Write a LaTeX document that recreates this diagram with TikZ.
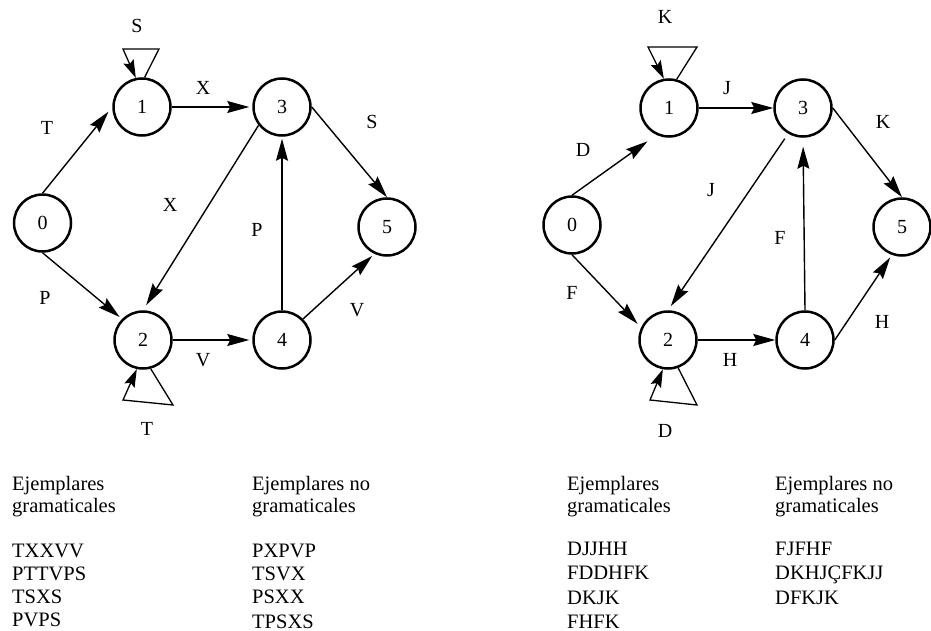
\documentclass[tikz,border=0pt]{standalone}
\usepackage{fontspec}
\setmainfont{Liberation Serif}
\usetikzlibrary{arrows.meta}
\begin{document}
\begin{tikzpicture}[x=1pt,y=-1pt,
  state/.style={circle,draw,line width=2.5pt,minimum size=57pt,inner sep=0pt,
    font=\fontsize{20}{20}\selectfont},
  edge/.style={line width=1.4pt,-{Stealth[length=22pt,width=12pt,inset=3pt]}},
  loopedge/.style={line width=1.3pt,line join=miter,-{Stealth[length=18pt,width=11pt,inset=3pt]}},
  lbl/.style={inner sep=0pt,font=\fontsize{20}{20}\selectfont},
  txt/.style={inner sep=0pt,anchor=base west,font=\fontsize{20.5}{20.5}\selectfont}]
\useasboundingbox (0,0) rectangle (931,631);
\clip (0,0) rectangle (931,631);

% ---------- first grammar ----------
\node[state] (a0) at (42.5,223) {0};
\node[state] (a1) at (142,107) {1};
\node[state] (a3) at (282,107) {3};
\node[state] (a2) at (143,340) {2};
\node[state] (a4) at (282,340) {4};
\node[state] (a5) at (387,227) {5};

\draw[edge,shorten >=6pt] (a0.north) -- (a1.west);
\draw[edge,shorten >=3pt] (a0.south) -- (a2.north west);
\draw[edge,shorten >=3pt] (a1.east) -- (a3.west);
\draw[edge] (a3.east) -- (a5.north);
\draw[edge,shorten >=6pt] (a3.218) -- (a2.north);
\draw[edge,shorten >=2pt] (a4.north) -- (a3.south);
\draw[edge,shorten >=3pt] (a4.north east) -- (a5.245);
\draw[edge,shorten >=3pt] (a2.east) -- (a4.west);
\draw[loopedge] (a1.85) -- (159,49) -- (123,49) -- (a1.102);
\draw[loopedge] (a2.-75) -- (173,405) -- (123,400) -- (a2.-102);

\node[lbl] (ls1) at (137,26) {S};
\node[lbl] (lt1) at (47,128) {T};
\node[lbl] (lx1) at (203,88) {X};
\node[lbl] (ls2) at (372,122) {S};
\node[lbl] (lx2) at (170,205) {X};
\node[lbl] (lp1) at (257,230) {P};
\node[lbl] (lp2) at (45,298) {P};
\node[lbl] (lv1) at (357,310) {V};
\node[lbl] (lv2) at (203,360) {V};
\node[lbl] (lt2) at (147,429) {T};

% ---------- second grammar ----------
\node[state] (b0) at (572,225) {0};
\node[state] (b1) at (669,108) {1};
\node[state] (b3) at (803,108) {3};
\node[state] (b2) at (668,340) {2};
\node[state] (b4) at (805,340) {4};
\node[state] (b5) at (902,227) {5};

\draw[edge,shorten >=11pt] (b0.north) -- (b1.245);
\draw[edge,shorten >=5pt] (b0.south) -- (b2.155);
\draw[edge] (b1.east) -- (b3.west);
\draw[edge] (b3.east) -- (b5.north);
\draw[edge,shorten <=6pt,shorten >=5pt] (b3.240) -- (b2.north);
\draw[edge,shorten >=9pt] (b4.north) -- (b3.south);
\draw[edge,shorten >=3pt] (b4.east) -- (b5.250);
\draw[edge] (b2.east) -- (b4.west);
\draw[loopedge] (b1.75) -- (697,47) -- (648,47) -- (b1.100);
\draw[loopedge] (b2.-70) -- (697,405) -- (650,400) -- (b2.-100);

\node[lbl] (mk1) at (665,17) {K};
\node[lbl] (md1) at (583,150) {D};
\node[lbl] (mj1) at (727,88) {J};
\node[lbl] (mk2) at (883,122) {K};
\node[lbl] (mj2) at (711,190) {J};
\node[lbl] (mf1) at (780,238) {F};
\node[lbl] (mf2) at (572,293) {F};
\node[lbl] (mh1) at (882,322) {H};
\node[lbl] (mh2) at (730,360) {H};
\node[lbl] (md2) at (665,431) {D};

% ---------- example strings ----------
\node[txt] (c1a) at (12,490) {Ejemplares};
\node[txt] (c1b) at (12,512) {gramaticales};
\node[txt] (c1c) at (12,557) {TXXVV};
\node[txt] (c1d) at (12,580) {PTTVPS};
\node[txt] (c1e) at (12,603) {TSXS};
\node[txt] (c1f) at (12,626) {PVPS};

\node[txt] (c2a) at (252,490) {Ejemplares no};
\node[txt] (c2b) at (252,512) {gramaticales};
\node[txt] (c2c) at (252,557) {PXPVP};
\node[txt] (c2d) at (252,580) {TSVX};
\node[txt] (c2e) at (252,603) {PSXX};
\node[txt] (c2f) at (252,628) {TPSXS};

\node[txt] (c3a) at (567,490) {Ejemplares};
\node[txt] (c3b) at (567,512) {gramaticales};
\node[txt] (c3c) at (567,555) {DJJHH};
\node[txt] (c3d) at (567,579) {FDDHFK};
\node[txt] (c3e) at (567,604) {DKJK};
\node[txt] (c3f) at (567,628) {FHFK};

\node[txt] (c4a) at (775,490) {Ejemplares no};
\node[txt] (c4b) at (775,512) {gramaticales};
\node[txt] (c4c) at (775,555) {FJFHF};
\node[txt] (c4d) at (775,579) {DKHJÇFKJJ};
\node[txt] (c4e) at (775,604) {DFKJK};
\end{tikzpicture}
\end{document}
